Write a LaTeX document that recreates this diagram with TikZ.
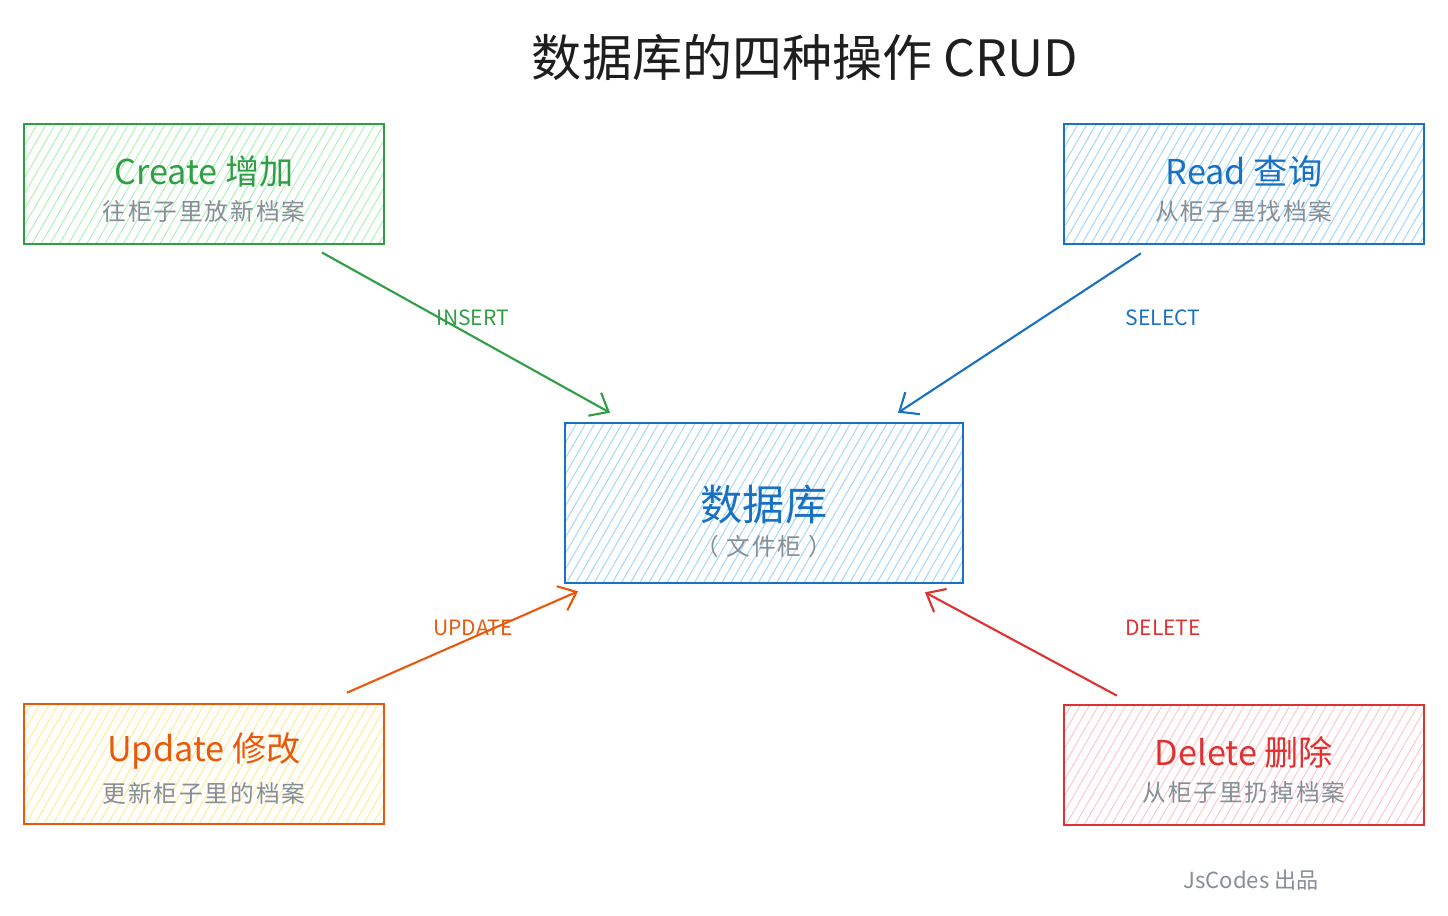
\documentclass[tikz,border=0pt]{standalone}
\usepackage{fontspec}
\setmainfont{Noto Sans CJK SC}
\newfontfamily\subfont[LetterSpace=8]{Noto Sans CJK SC}
\usetikzlibrary{arrows.meta,patterns.meta,positioning}
\definecolor{cgreen}{HTML}{2F9E44}
\definecolor{cblue}{HTML}{1971C2}
\definecolor{corange}{HTML}{E8590C}
\definecolor{cred}{HTML}{E03131}
\definecolor{lgreen}{HTML}{B2F2BB}
\definecolor{lblue}{HTML}{A5D8FF}
\definecolor{lyellow}{HTML}{FFEC99}
\definecolor{lred}{HTML}{FFC9C9}
\definecolor{cgray}{HTML}{868E96}
\definecolor{cink}{HTML}{1E1E1E}
\newcommand\cardtext[3]{\rule{0pt}{22pt}{\fontsize{19.5}{22}\selectfont\color{#1}#2}\\[6.5pt]{\subfont\fontsize{13.5}{16}\selectfont\color{cgray}#3}}

\begin{document}
\begin{tikzpicture}[x=0.02cm,y=-0.02cm,
    card/.style 2 args={draw=#1,line width=1.5pt,align=center,
        pattern={Lines[angle=60,distance=4.5pt,line width=0.6pt]},pattern color=#2,
        minimum width=7.2cm,minimum height=2.4cm},
    flow/.style={draw=#1,line width=1.2pt,-{Straight Barb[length=9pt,width=15pt]}},
    tag/.style={text=#1,font=\fontsize{12}{14}\selectfont}]
    \useasboundingbox (0,0) rectangle (1448,916);
    \node[text=cink] (title) at (805,57) {\fontsize{28.5}{32}\selectfont 数据库的四种操作 CRUD};
    \node[card={cgreen}{lgreen}] (create) at (204,184) {\cardtext{cgreen}{Create 增加}{往柜子里放新档案}};
    \node[card={cblue}{lblue}] (read) at (1244,184) {\cardtext{cblue}{Read 查询}{从柜子里找档案}};
    \node[card={corange}{lyellow}] (update) at (204,764) {\cardtext{corange}{Update 修改}{更新柜子里的档案}};
    \node[card={cred}{lred}] (delete) at (1244,765) {\cardtext{cred}{Delete 删除}{从柜子里扔掉档案}};
    \node[card={cblue}{lblue},minimum width=7.96cm,minimum height=3.2cm] (db) at (764,503)
        {\rule{0pt}{41pt}{\fontsize{24}{28}\selectfont\color{cblue}数据库}\\[5pt]{\subfont\fontsize{13.5}{16}\selectfont\color{cgray}（ 文件柜 ）}};
    \draw[flow=cgreen] ([shift={(118,8)}]create.south) -- ([shift={(-154,-9)}]db.north);
    \draw[flow=cblue] ([shift={(-103,8)}]read.south) -- ([shift={(134,-9)}]db.north);
    \draw[flow=corange] ([shift={(143,-10)}]update.north) -- ([shift={(-186,7)}]db.south);
    \draw[flow=cred] ([shift={(-127,-8)}]delete.north) -- ([shift={(161,8)}]db.south);
    \node[tag=cgreen] (insert) at (473,318) {INSERT};
    \node[tag=cblue] (select) at (1163,318) {SELECT};
    \node[tag=corange] (upd) at (473,628) {UPDATE};
    \node[tag=cred] (del) at (1163,628) {DELETE};
    \node[text=cgray] (credit) at (1251,880) {\fontsize{12.6}{15}\selectfont JsCodes 出品};
\end{tikzpicture}
\end{document}
